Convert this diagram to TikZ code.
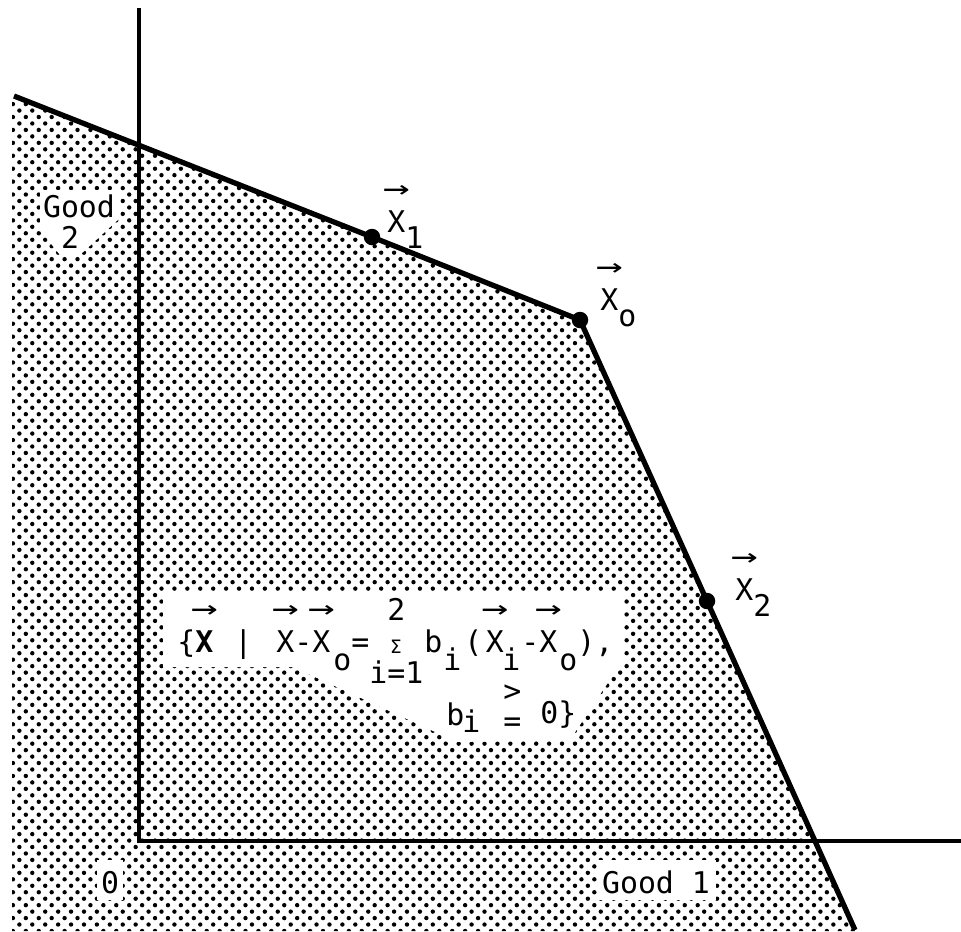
\documentclass[tikz,border=0pt]{standalone}
\usepackage{fontspec}
\usepackage{graphicx}
\setmainfont{DejaVu Sans Mono}
\newfontfamily\sumfont{DejaVu Sans}
\usetikzlibrary{patterns.meta}

% vector arrow over a letter, typewriter style subscript
\newcommand{\vX}[1]{\makebox[0pt][l]{\makebox[0.602em]{\raisebox{1.12em}{\scalebox{1.5}[1]{→}}}}#1}
\newcommand{\dn}[1]{\raisebox{-0.55em}{#1}}

\begin{document}
\begin{tikzpicture}[x=0.02cm, y=-0.02cm,
  txt/.style={font=\fontsize{17}{20}\selectfont, inner sep=0pt},
  glyph/.style={txt, anchor=base west},
  knot/.style={circle, fill=black, inner sep=0pt, minimum size=0.33cm},
  frontier/.style={line width=3pt, line join=round},
  axisline/.style={line width=2.6pt}]
\useasboundingbox (0,0) rectangle (961,931);

% Shaded set
\fill[pattern={Dots[distance=5.2pt, radius=1.25pt, angle=45]}]
  (12,96) -- (580,320) -- (858,931) -- (12,931) -- cycle;

% White patches behind the texts
\fill[white] (40,190) -- (120,190) -- (120,218) -- (80,255) -- (60,255) -- (40,230) -- cycle;
\fill[white] (163,592) -- (623,592) -- (623,660) -- (570,740) -- (457,742) -- (293,667) -- (163,667) -- cycle;
\fill[white] (97,860) rectangle (123,900);
\fill[white] (598,860) rectangle (716,900);

% Axes
\coordinate (top) at (139,8);
\coordinate (o) at (139,841);
\coordinate (right) at (961,841);
\draw[axisline] (top) -- (o) -- (right);

% Frontier
\coordinate (start) at (14,96);
\node[knot] (x1) at (372,237) {};
\node[knot] (x0) at (580,320) {};
\node[knot] (x2) at (707,601) {};
\coordinate (end) at (855,930);
\draw[frontier] (start) -- (x1.center) -- (x0.center) -- (x2.center) -- (end);

% Point labels
\node[glyph] (lx1) at (387,232) {\vX{X}\dn{1}};
\node[glyph] (lx0) at (600,310) {\vX{X}\dn{o}};
\node[glyph] (lx2) at (735,600) {\vX{X}\dn{2}};

% Axis labels
\node[txt, anchor=base] (good2a) at (79,217) {Good};
\node[txt, anchor=base] (good2b) at (70,248) {2};
\node[txt, anchor=base] (zero) at (110,893) {0};
\node[txt, anchor=base] (good1) at (656,893) {Good 1};

% Set formula, first line
\node[glyph] (f1) at (177,652) {\{\vX{\bfseries X}};
\node[glyph] (f2) at (234,652) {|};
\node[glyph] (f3) at (276,652) {\vX{X}-\vX{X}};
\node[glyph] (f4) at (333,670) {o};
\node[glyph] (f5) at (351,652) {=};
\node[glyph] (f6) at (387,620) {2};
\node[txt, anchor=base, font=\sumfont\fontsize{10.5}{12}\selectfont] (f7) at (396,653) {Σ};
\node[glyph] (f8) at (369,683) {i=1};
\node[glyph] (f9) at (424,652) {b};
\node[glyph] (f10) at (443,670) {i};
\node[glyph] (f11) at (464,652) {(\kern2pt\vX{X}};
\node[glyph] (f12) at (502,670) {i};
\node[glyph] (f13) at (521,652) {-\vX{X}};
\node[glyph] (f14) at (559,670) {o};
\node[glyph] (f15) at (577,652) {),};
% second line
\node[glyph] (f16) at (446,725) {b};
\node[glyph] (f17) at (462,732) {i};
\node[glyph] (f18) at (503,701) {>};
\node[glyph] (f19) at (503,731) {=};
\node[glyph] (f20) at (540,723) {0\}};

\end{tikzpicture}
\end{document}
